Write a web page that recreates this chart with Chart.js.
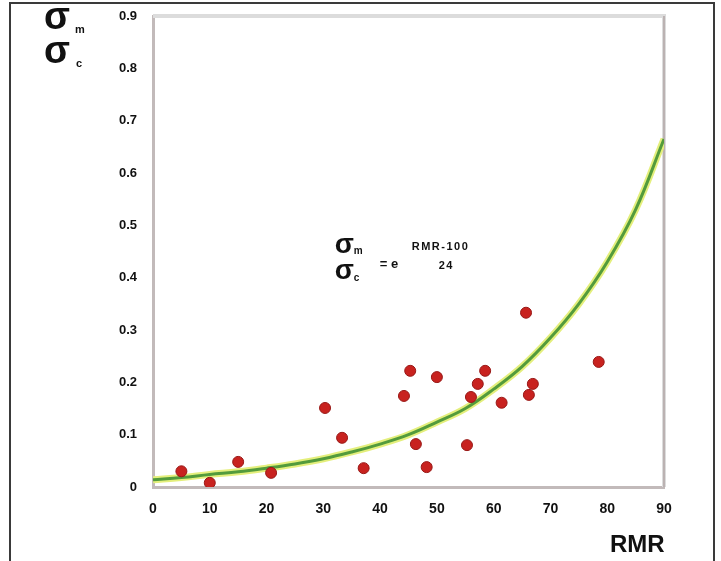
<!DOCTYPE html>
<html>
<head>
<meta charset="utf-8">
<script src="https://cdn.jsdelivr.net/npm/chart.js@4.4.1/dist/chart.umd.min.js"></script>
<style>
  body { margin: 0; background: #fff; }
  #wrap { position: relative; width: 721px; height: 561px; overflow: hidden; }
  #frame { position: absolute; left: 9px; top: 2px; width: 702px; height: 600px; border: 2px solid #3a3a3a; pointer-events: none; }
</style>
</head>
<body>
<div id="wrap">
  <canvas id="c" width="721" height="561"></canvas>
  <div id="frame"></div>
</div>
<script>
// measured points (RMR, sigma_m / sigma_c)
const rmr   = [5, 10, 15, 20.8, 30.3, 33.3, 37.1, 44.2, 45.3, 46.3, 48.2, 50, 55.3, 56, 57.2, 58.5, 61.4, 65.7, 66.2, 66.9, 78.5]
const ratio = [0.03, 0.008, 0.048, 0.027, 0.151, 0.094, 0.036, 0.174, 0.222, 0.082, 0.038, 0.21, 0.08, 0.172, 0.197, 0.222, 0.161, 0.333, 0.176, 0.197, 0.239]

// fitted curve
const curveX = [0, 5, 10, 15, 20, 25, 30, 35, 40, 45, 50, 55, 60, 65, 70, 75, 80, 85, 90]
const curveY = [0.014, 0.018, 0.024, 0.029, 0.036, 0.044, 0.054, 0.067, 0.082, 0.1, 0.124, 0.15, 0.187, 0.23, 0.285, 0.35, 0.43, 0.53, 0.665]

const pts = rmr.map((v, i) => ({ x: v, y: ratio[i] }))
const curve = curveX.map((v, i) => ({ x: v, y: curveY[i] }))

const fontFam = "'Liberation Sans', Arial, sans-serif"

const decor = {
    id: "decor",
    beforeDatasetsDraw(chart) {
        const { ctx, chartArea: a } = chart
        ctx.save()
        ctx.strokeStyle = "#dcdcdc"
        ctx.lineWidth = 4
        ctx.beginPath()
        ctx.moveTo(a.left, a.top)
        ctx.lineTo(a.right, a.top)
        ctx.lineTo(a.right, a.bottom)
        ctx.stroke()
        ctx.strokeStyle = "#bbb2b2"
        ctx.lineWidth = 2
        ctx.beginPath()
        ctx.moveTo(a.right, a.top)
        ctx.lineTo(a.right, a.bottom)
        ctx.stroke()
        ctx.restore()
    },
    afterDraw(chart) {
        const { ctx } = chart
        const xs = chart.scales.x, ys = chart.scales.y
        ctx.save()
        ctx.fillStyle = "#111"
        ctx.textBaseline = "alphabetic"
        ctx.textAlign = "left"
        // axis title on the y side
        ctx.font = "bold 38px " + fontFam
        ctx.fillText("σ", 44, 29)
        ctx.fillText("σ", 44, 63)
        ctx.font = "bold 11px " + fontFam
        ctx.fillText("m", 75, 33)
        ctx.fillText("c", 76, 67)
        // x title
        ctx.font = "bold 24px " + fontFam
        ctx.fillText("RMR", 610, 552)
        // equation
        const ex = xs.getPixelForValue(32), ey = ys.getPixelForValue(0.448)
        ctx.font = "bold 28px " + fontFam
        ctx.fillText("σ", ex, ey)
        ctx.fillText("σ", ex, ey + 26)
        ctx.font = "bold 10px " + fontFam
        ctx.fillText("m", ex + 19, ey + 1)
        ctx.fillText("c", ex + 19, ey + 28)
        ctx.font = "bold 13px " + fontFam
        ctx.fillText("= e", ex + 45, ey + 15)
        ctx.font = "bold 11px " + fontFam
        ctx.letterSpacing = "1.5px"
        ctx.fillText("RMR-100", ex + 77, ey - 3)
        ctx.fillText("24", ex + 104, ey + 16)
        ctx.restore()
    }
}

new Chart(document.getElementById("c"), {
    type: "scatter",
    data: {
        datasets: [
            {
                data: pts,
                order: 0,
                pointRadius: 5.5,
                backgroundColor: "#c8221f",
                borderColor: "#981816",
                borderWidth: 1
            },
            {
                type: "line",
                data: curve,
                order: 1,
                borderColor: "#539b3c",
                borderWidth: 3,
                pointRadius: 0,
                tension: 0.4,
                fill: false
            },
            {
                type: "line",
                data: curve,
                order: 2,
                borderColor: "#e4ef7c",
                borderWidth: 7,
                pointRadius: 0,
                tension: 0.4,
                fill: false
            }
        ]
    },
    options: {
        responsive: false,
        animation: false,
        layout: { padding: { left: 0, top: 16, right: 57, bottom: 0 } },
        plugins: { legend: { display: false }, tooltip: { enabled: false } },
        scales: {
            x: {
                type: "linear",
                min: 0, max: 90,
                afterFit: s => { s.height = 74; s.paddingLeft = 0; s.paddingRight = 0 },
                grid: { display: true, color: "rgba(0,0,0,0)", drawTicks: false },
                border: { color: "#c2baba", width: 3 },
                ticks: { stepSize: 10, padding: 14, color: "#111", font: { family: fontFam, size: 14, weight: "bold" } }
            },
            y: {
                min: 0, max: 0.9,
                afterFit: s => { s.width = 153; s.paddingTop = 0; s.paddingBottom = 0 },
                grid: { display: true, color: "rgba(0,0,0,0)", drawTicks: false },
                border: { color: "#c2baba", width: 3 },
                ticks: { stepSize: 0.1, padding: 16, color: "#111", font: { family: fontFam, size: 13, weight: "bold" } }
            }
        }
    },
    plugins: [decor]
})
</script>
</body>
</html>
